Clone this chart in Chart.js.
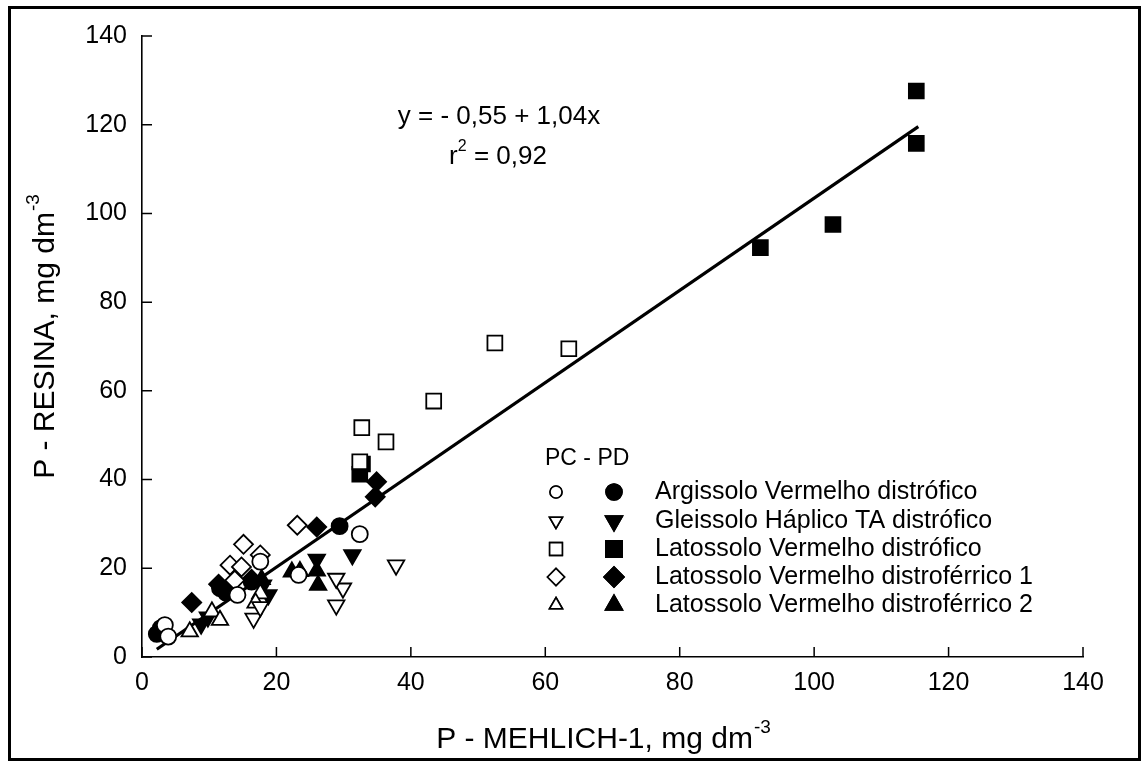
<!DOCTYPE html>
<html>
<head>
<meta charset="utf-8">
<script src="https://cdn.jsdelivr.net/npm/chart.js@4.4.1/dist/chart.umd.min.js"></script>
<style>
html,body{margin:0;padding:0;background:#fff;}
#wrap{position:relative;width:1148px;height:763px;}
</style>
</head>
<body>
<div id="wrap"><canvas id="c" width="1148" height="763"></canvas></div>
<script>
// ---- Data (P - Mehlich-1 vs P - Resina, mg dm-3) ----
const argPC_x = [3.4, 3.9, 14.2, 17.6, 23.3, 32.4];
const argPC_y = [7.2, 4.6, 14.0, 21.5, 18.5, 27.7];
const argPD_x = [2.2, 2.8, 11.6, 12.5, 16.3, 29.4];
const argPD_y = [5.2, 6.5, 15.5, 14.5, 17.0, 29.5];

const gleiPC_x = [16.6, 17.6, 28.9, 29.9, 28.9, 37.8];
const gleiPC_y = [8.7, 11.3, 11.7, 15.5, 17.7, 20.7];
const gleiPD_x = [8.8, 9.8, 18.0, 18.8, 26.0, 31.3];
const gleiPD_y = [7.4, 9.0, 16.2, 14.0, 22.0, 23.0];

const lvdPC_x = [32.4, 32.7, 36.3, 43.4, 52.5, 63.5];
const lvdPC_y = [44.0, 51.7, 48.5, 57.7, 70.8, 69.5];
const lvdPD_x = [32.4, 32.8, 92.0, 102.8, 115.2, 115.2];
const lvdPD_y = [41.2, 43.5, 92.3, 97.5, 115.8, 127.6];

const lvdf1PC_x = [13.1, 13.8, 14.8, 15.1, 17.6, 23.1];
const lvdf1PC_y = [20.7, 17.3, 20.3, 25.4, 23.0, 29.7];
const lvdf1PD_x = [7.4, 11.4, 16.3, 26.0, 34.7, 34.9];
const lvdf1PD_y = [12.3, 16.4, 17.5, 29.3, 36.1, 39.5];

const lvdf2PC_x = [7.1, 10.4, 11.6, 17.6, 16.9];
const lvdf2PC_y = [5.7, 10.2, 8.3, 14.3, 12.2];
const lvdf2PD_x = [17.8, 22.3, 23.5, 26.0, 26.2];
const lvdf2PD_y = [17.5, 19.2, 19.3, 19.4, 16.2];

// regression line y = -0.55 + 1.04x (end points)
const fit_x = [2.2, 115.5];
const fit_y = [1.74, 119.57];

const axisTicks = [0, 20, 40, 60, 80, 100, 120, 140];
const legendLabels = [
  'Argissolo Vermelho distrófico',
  'Gleissolo Háplico TA distrófico',
  'Latossolo Vermelho distrófico',
  'Latossolo Vermelho distroférrico 1',
  'Latossolo Vermelho distroférrico 2'
];
const eqText = 'y = - 0,55 + 1,04x';
const r2Text = '0,92';

const FONT = "'Liberation Sans', Arial, sans-serif";

function pts(xs, ys){ return xs.map((x,i)=>({x:x, y:ys[i]})); }

function series(label, xs, ys, style, filled, radius, rotation){
  return {
    type:'scatter', label:label, data:pts(xs,ys),
    pointStyle:style, pointRadius:radius, pointHoverRadius:radius,
    pointRotation:rotation||0,
    backgroundColor: filled ? '#000' : '#fff',
    borderColor:'#000', pointBorderWidth:1.8, borderWidth:1.8
  };
}

const datasets = [
  series('lvdPC', lvdPC_x, lvdPC_y, 'rect', false, 10.5),
  series('argPC', argPC_x, argPC_y, 'circle', false, 8),
  series('lvdf1PC', lvdf1PC_x, lvdf1PC_y, 'rectRot', false, 9.5),
  series('gleiPC', gleiPC_x, gleiPC_y, 'triangle', false, 9.5, 180),
  series('lvdf2PC', lvdf2PC_x, lvdf2PC_y, 'triangle', false, 9.5),
  series('lvdPD', lvdPD_x, lvdPD_y, 'rect', true, 10.5),
  series('argPD', argPD_x, argPD_y, 'circle', true, 8),
  series('lvdf1PD', lvdf1PD_x, lvdf1PD_y, 'rectRot', true, 9.5),
  series('gleiPD', gleiPD_x, gleiPD_y, 'triangle', true, 9.5, 180),
  series('lvdf2PD', lvdf2PD_x, lvdf2PD_y, 'triangle', true, 9.5),
  {
    type:'line', label:'fit', data:pts(fit_x, fit_y),
    borderColor:'#000', borderWidth:3.2, pointRadius:0, fill:false, showLine:true
  }
];

function drawMarker(ctx, style, filled, x, y, r, rot){
  ctx.save();
  ctx.fillStyle = filled ? '#000' : '#fff';
  ctx.strokeStyle = '#000';
  ctx.lineWidth = 1.6;
  Chart.helpers.drawPoint(ctx, {pointStyle:style, radius:r, rotation:rot||0, borderWidth:1.6}, x, y);
  ctx.fill();
  ctx.stroke();
  ctx.restore();
}

const decor = {
  id:'decor',
  afterDraw(chart){
    const ctx = chart.ctx;
    const xs = chart.scales.x, ys = chart.scales.y;
    const ca = chart.chartArea;
    ctx.save();
    // frame
    ctx.strokeStyle = '#000';
    ctx.lineWidth = 3;
    ctx.strokeRect(9.5, 7.5, 1130, 752);
    // inward ticks
    ctx.lineWidth = 1.5;
    ctx.beginPath();
    axisTicks.forEach(v=>{
      const px = xs.getPixelForValue(v);
      ctx.moveTo(px, ca.bottom); ctx.lineTo(px, ca.bottom - 10);
      const py = ys.getPixelForValue(v);
      ctx.moveTo(ca.left, py); ctx.lineTo(ca.left + 10, py);
    });
    ctx.stroke();

    ctx.fillStyle = '#000';
    function supText(baseText, sup, cx, cy, size, rotate){
      ctx.save();
      ctx.translate(cx, cy);
      if (rotate) ctx.rotate(-Math.PI/2);
      ctx.font = size + 'px ' + FONT;
      const w1 = ctx.measureText(baseText).width;
      ctx.font = Math.round(size*0.62) + 'px ' + FONT;
      const w2 = ctx.measureText(sup).width;
      const total = w1 + w2;
      ctx.textBaseline = 'middle';
      ctx.textAlign = 'left';
      ctx.font = size + 'px ' + FONT;
      ctx.fillText(baseText, -total/2, 0);
      ctx.font = Math.round(size*0.62) + 'px ' + FONT;
      ctx.fillText(sup, -total/2 + w1 + 1, -size*0.42);
      ctx.restore();
    }
    supText('P - MEHLICH-1, mg dm', '-3', 603, 740, 30, false);
    supText('P - RESINA, mg dm', '-3', 46, 337, 30, true);

    // equation
    ctx.font = '26px ' + FONT;
    ctx.textBaseline = 'middle';
    ctx.textAlign = 'center';
    ctx.fillText(eqText, 499, 117);
    // r^2 line
    ctx.textAlign = 'left';
    const rW = ctx.measureText('r').width;
    const restTxt = ' = ' + r2Text;
    const restW = ctx.measureText(restTxt).width;
    ctx.font = '16px ' + FONT;
    const sW = ctx.measureText('2').width;
    const startX = 498 - (rW + sW + restW)/2;
    ctx.font = '26px ' + FONT;
    ctx.fillText('r', startX, 157);
    ctx.font = '16px ' + FONT;
    ctx.fillText('2', startX + rW, 147);
    ctx.font = '26px ' + FONT;
    ctx.fillText(restTxt, startX + rW + sW, 157);

    // legend
    ctx.font = '23px ' + FONT;
    ctx.textAlign = 'left';
    ctx.fillText('PC - PD', 545, 459);
    const rowsY = [492, 521, 549, 577, 605];
    const openStyles = [['circle',6,0],['triangle',7.5,180],['rect',9,0],['rectRot',8.5,0],['triangle',7.5,0]];
    const fillStyles = [['circle',8,0],['triangle',9.8,180],['rect',11.5,0],['rectRot',10,0],['triangle',9.8,0]];
    rowsY.forEach((yy,i)=>{
      const o = openStyles[i], f = fillStyles[i];
      drawMarker(ctx, o[0], false, 556, yy, o[1], o[2]);
      drawMarker(ctx, f[0], true, 614, yy, f[1], f[2]);
      ctx.fillStyle = '#000';
      ctx.font = '25px ' + FONT;
      ctx.textBaseline = 'middle';
      ctx.fillText(legendLabels[i], 655, yy);
    });
    ctx.restore();
  }
};

new Chart(document.getElementById('c'), {
  data:{ datasets: datasets },
  options:{
    responsive:false,
    animation:false,
    events:[],
    layout:{ padding:{ left:0, right:65, top:36, bottom:0 } },
    plugins:{ legend:{display:false}, tooltip:{enabled:false} },
    scales:{
      x:{
        type:'linear', min:0, max:140,
        afterBuildTicks(s){ s.ticks = axisTicks.map(v=>({value:v})); },
        afterFit(s){ s.height = 106; },
        grid:{ display:false, drawTicks:false },
        border:{ display:true, color:'#000', width:1.6 },
        ticks:{ color:'#000', padding:11, font:{ family:FONT, size:25 } }
      },
      y:{
        type:'linear', min:0, max:140,
        afterBuildTicks(s){ s.ticks = axisTicks.map(v=>({value:v})); },
        afterFit(s){ s.width = 142; },
        grid:{ display:false, drawTicks:false },
        border:{ display:true, color:'#000', width:1.6 },
        ticks:{ color:'#000', padding:15, font:{ family:FONT, size:25 } }
      }
    }
  },
  plugins:[decor]
});
</script>
</body>
</html>
